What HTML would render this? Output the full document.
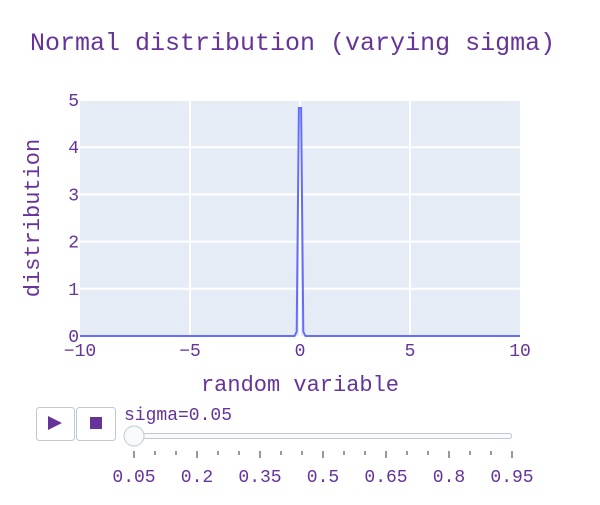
<!DOCTYPE html>
<html><head><meta charset="utf-8"><style>
body{margin:0;background:#fff}
svg text{font-family:"Liberation Mono",monospace;fill:#663399}
</style></head><body>
<svg width="600" height="500" xmlns="http://www.w3.org/2000/svg">
<rect width="600" height="500" fill="#fff"/>
<text x="30" y="50" font-size="25">Normal distribution (varying sigma)</text>
<rect x="80" y="100" width="440" height="236" fill="#e5ecf6"/>
<g id="grid"></g>
<g id="ticks"></g>
<path id="curve" fill="none" stroke="#636efa" stroke-width="2"/>
<text x="300" y="391" font-size="22" text-anchor="middle">random variable</text>
<text transform="translate(39,218) rotate(-90)" font-size="22" text-anchor="middle">distribution</text>
<g><rect x="36.5" y="407.5" width="38" height="33" rx="3" fill="#fff" stroke="#bec8d9"/><path d="M48,416 L62,423 L48,430Z" fill="#663399"/></g>
<g><rect x="76.5" y="407.5" width="39" height="33" rx="3" fill="#fff" stroke="#bec8d9"/><rect x="90" y="417" width="12" height="12" fill="#663399"/></g>
<text x="124" y="420" font-size="18">sigma=0.05</text>
<rect x="124.5" y="433.5" width="387" height="5" rx="2" fill="#f8fafc" stroke="#bec8d9"/>
<g id="sticks"></g>
<circle cx="134" cy="436" r="10" fill="#f8fafc" stroke="#bec8d9"/>
</svg>
<script>
const xTicks=[-10,-5,0,5,10];
const xTickLabels=["\u221210","\u22125","0","5","10"];
const yTicks=[0,1,2,3,4,5];
const xs=[-10,-0.35,-0.25,-0.15,-0.05,0.05,0.15,0.25,0.35,10];
const ys=[0,0,0,0.089,4.83,4.83,0.089,0,0,0];
const sliderSteps=[0.05,0.1,0.15,0.2,0.25,0.3,0.35,0.4,0.45,0.5,0.55,0.6,0.65,0.7,0.75,0.8,0.85,0.9,0.95];
const sliderLabels=["0.05","0.2","0.35","0.5","0.65","0.8","0.95"];
const NS="http://www.w3.org/2000/svg";
const X=v=>80+(v+10)/20*440, Y=v=>336-v/5*236;
function mk(t,a,p){const e=document.createElementNS(NS,t);for(const k in a)e.setAttribute(k,a[k]);p.appendChild(e);return e;}
const g=document.getElementById('grid'),tk=document.getElementById('ticks');
xTicks.forEach((v,i)=>{
 if(v!==-10&&v!==10){const l=mk('line',{x1:X(v),x2:X(v),y1:100,y2:336,stroke:'#fff','stroke-width':2},g);
 
 }
 const t=mk('text',{x:X(v),y:356,'font-size':18,'text-anchor':'middle'},tk);t.textContent=xTickLabels[i];
 
 
});
yTicks.forEach(v=>{
 if(v>0){const l=mk('line',{x1:80,x2:520,y1:Y(v),y2:Y(v),stroke:'#fff','stroke-width':2},g);
 
 }
 const t=mk('text',{x:79,y:Y(v)+6,'font-size':18,'text-anchor':'end'},tk);t.textContent=v;
 
 
});
document.getElementById('curve').setAttribute('d',xs.map((x,i)=>(i?'L':'M')+X(x)+','+Y(ys[i])).join(''));
const st=document.getElementById('sticks');
const S=v=>134+(v-0.05)/0.9*378;
sliderSteps.forEach((v,i)=>{
 const l=mk('line',{x1:S(v),x2:S(v),y1:451,y2:i%3===0?458:455,stroke:'#333','stroke-width':1},st);
 
 
 if(i%3===0){const t=mk('text',{x:S(v),y:482,'font-size':18,'text-anchor':'middle'},st);t.textContent=sliderLabels[i/3];
 
 }
});
</script>
</body></html>
